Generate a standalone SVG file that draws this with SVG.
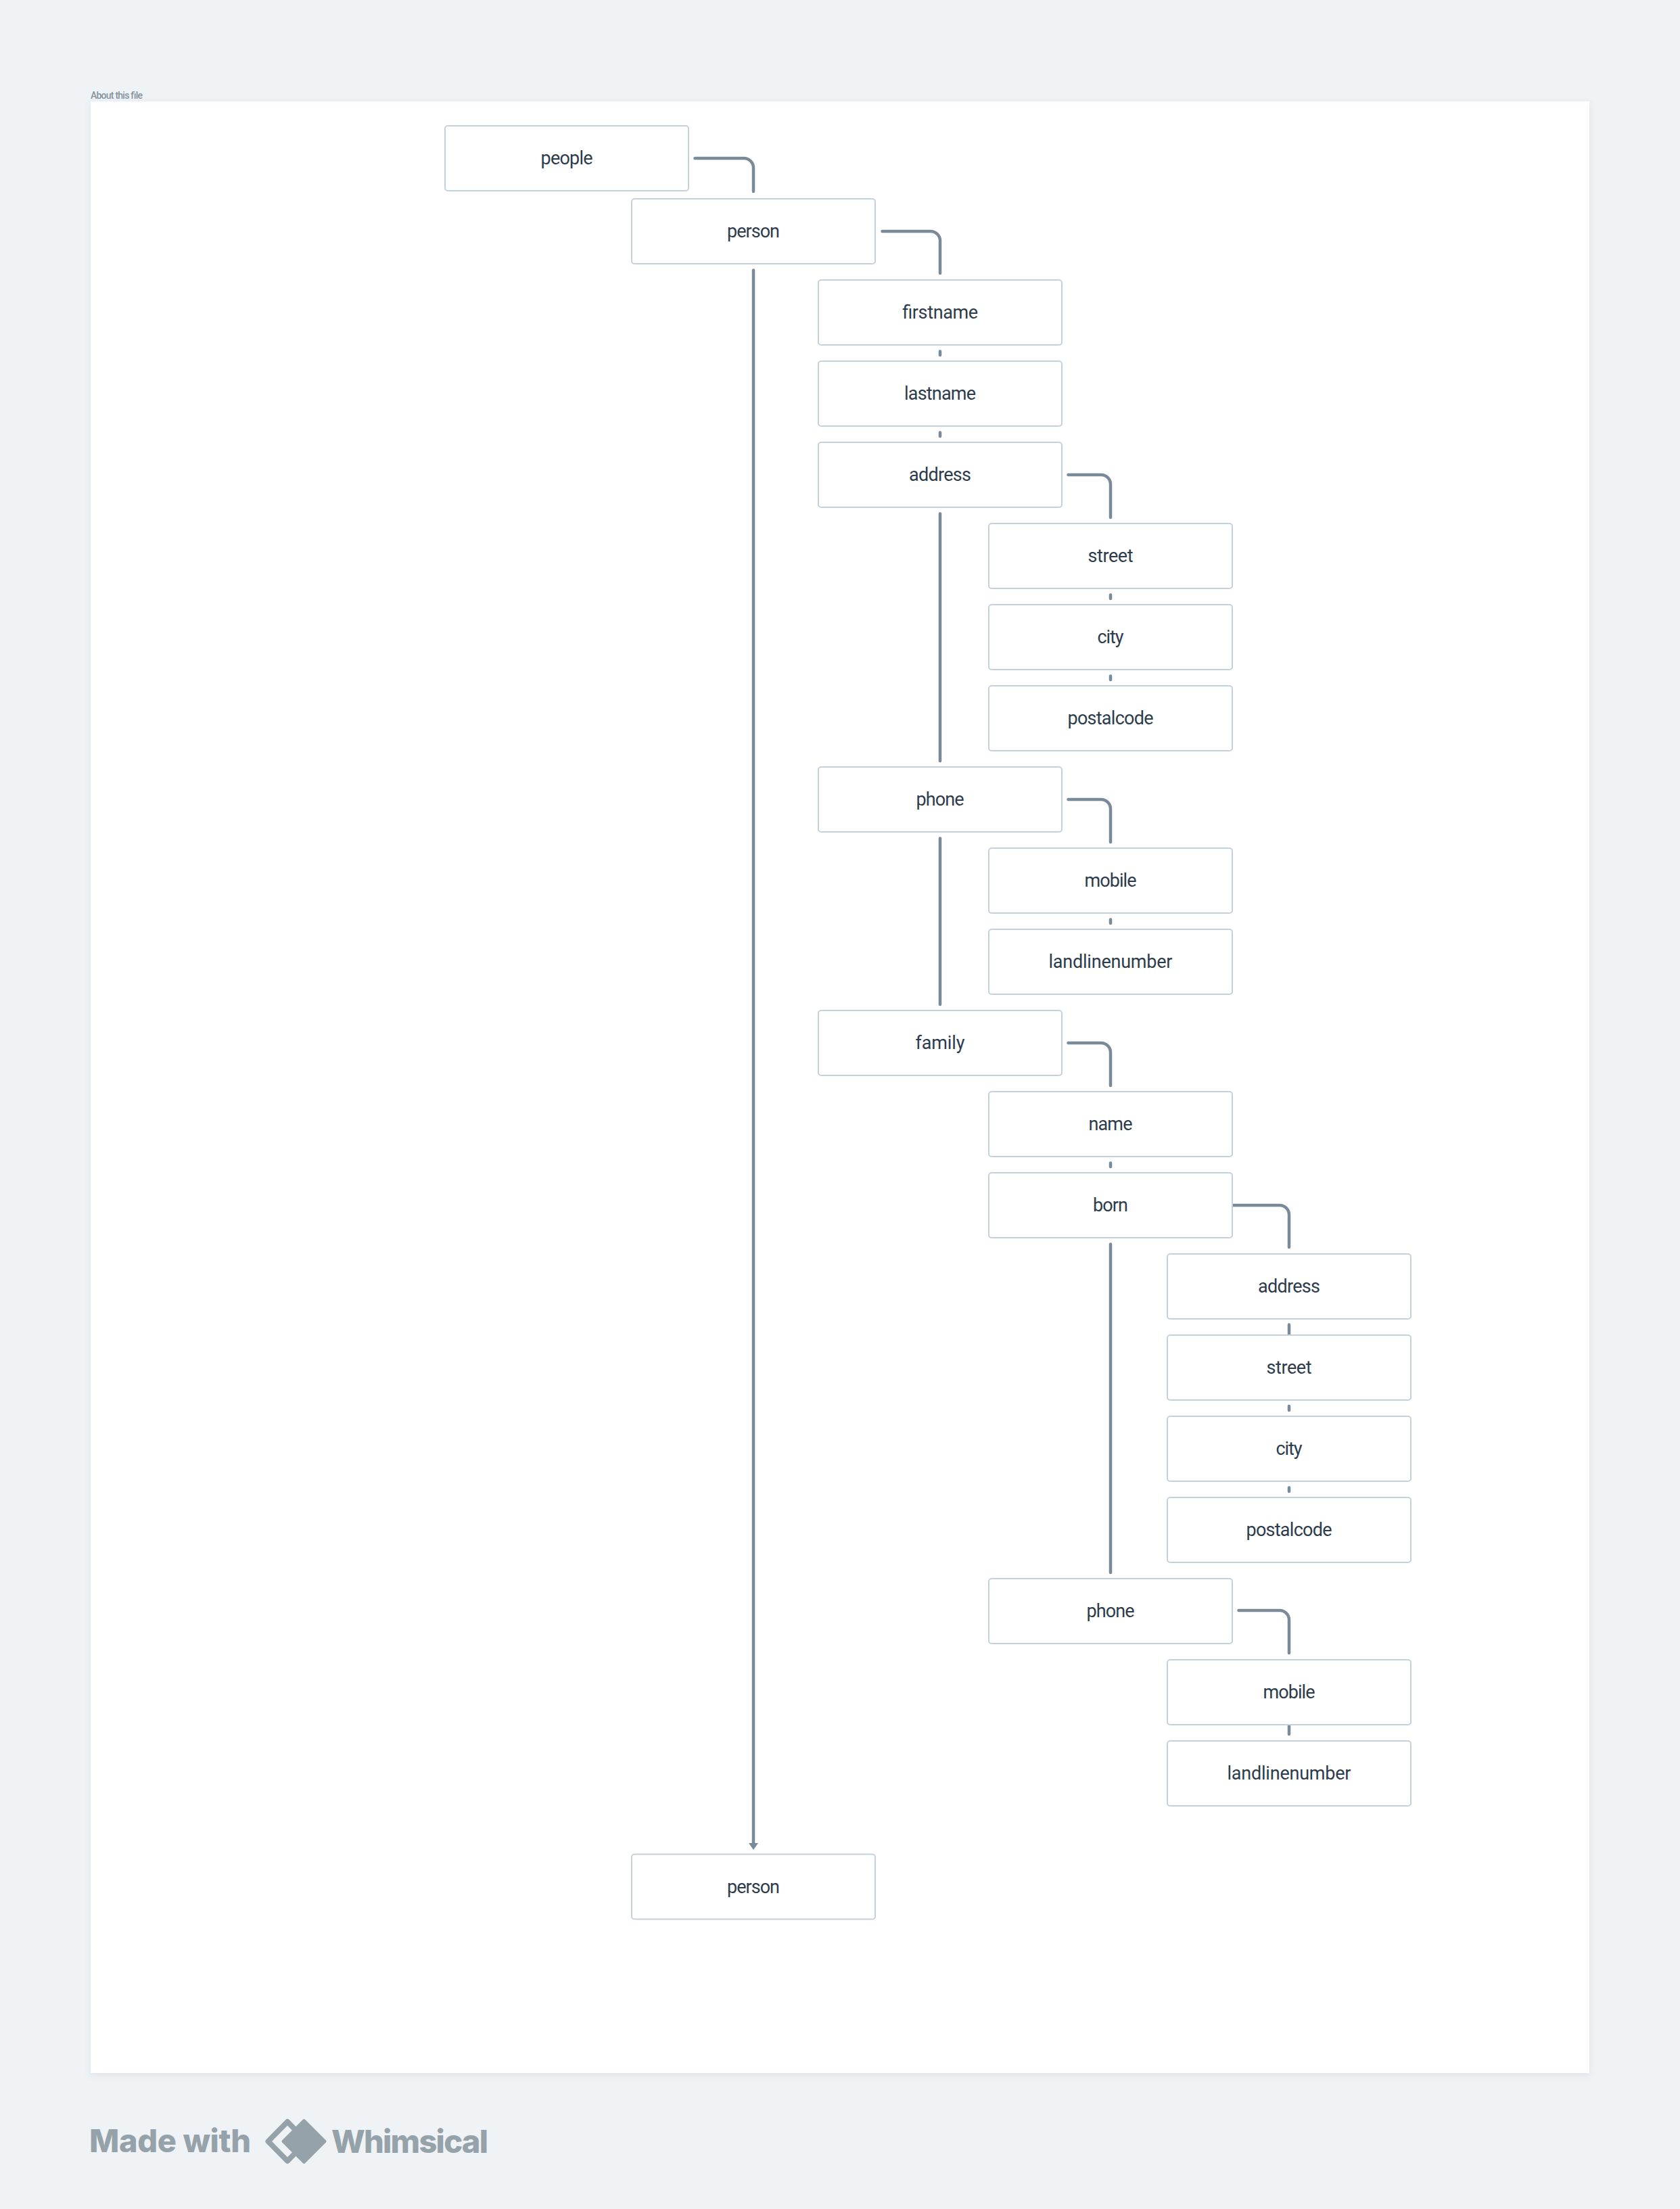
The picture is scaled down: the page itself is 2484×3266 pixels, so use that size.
<svg xmlns="http://www.w3.org/2000/svg" width="2484" height="3266" viewBox="0 0 2484 3266">
<style>
.n{fill:#fff;stroke:#c5d2dd;stroke-width:2}
.t{font-family:Roboto,"Liberation Sans",sans-serif;font-size:27px;fill:#2d3c4c;text-anchor:middle}
.c{fill:none;stroke:#7a8a99;stroke-width:4.500;stroke-linecap:round}
.m{font-family:Inter,"Liberation Sans",sans-serif;font-size:47px;font-weight:800;fill:#96a2aa}
.a{font-family:Roboto,"Liberation Sans",sans-serif;font-size:14px;font-weight:500;fill:#84929f}
</style>
<defs>
<filter id="s" x="-5%" y="-5%" width="110%" height="110%"><feDropShadow dx="0" dy="3" stdDeviation="5" flood-color="#5a6b7a" flood-opacity="0.12"/></filter>
</defs>
<rect width="2484" height="3266" fill="#eff3f6"/>
<rect x="134" y="150" width="2216" height="2915" fill="#fff" filter="url(#s)"/>
<text class="a" x="134" y="146" textLength="77">About this file</text>
<g id="connectors">
<path class="c" d="M1027.500 234H1100a14 14 0 0 1 14 14V283"/>
<path class="c" d="M1304.500 342H1376a14 14 0 0 1 14 14V404"/>
<path class="c" d="M1114 399.500V2726"/>
<path fill="#7a8a99" d="M1107 2725H1121L1114 2735Z"/>
<path class="c" d="M1390 519.500V525"/>
<path class="c" d="M1390 639.500V645"/>
<path class="c" d="M1579.500 702H1628a14 14 0 0 1 14 14V765"/>
<path class="c" d="M1390 759.500V1125"/>
<path class="c" d="M1642 879.500V885"/>
<path class="c" d="M1642 999.500V1005"/>
<path class="c" d="M1579.500 1182H1628a14 14 0 0 1 14 14V1245"/>
<path class="c" d="M1390 1239.500V1485"/>
<path class="c" d="M1642 1359.500V1365"/>
<path class="c" d="M1579.500 1542H1628a14 14 0 0 1 14 14V1605"/>
<path class="c" d="M1642 1719.500V1725"/>
<path class="c" d="M1822 1782H1892a14 14 0 0 1 14 14V1844"/>
<path class="c" d="M1642 1839.500V2325"/>
<path class="c" d="M1906 1958.500V1973"/>
<path class="c" d="M1906 2079V2085"/>
<path class="c" d="M1906 2199.500V2205"/>
<path class="c" d="M1831.500 2381H1892a14 14 0 0 1 14 14V2444"/>
<path class="c" d="M1906 2550V2564"/>
</g>
<g id="people"><rect class="n" x="658" y="186" width="360" height="96" rx="4"/><text class="t" x="838" y="243" textLength="77">people</text></g>
<g id="person"><rect class="n" x="934" y="294" width="360" height="96" rx="4"/><text class="t" x="1114" y="351" textLength="78">person</text></g>
<g id="firstname"><rect class="n" x="1210" y="414" width="360" height="96" rx="4"/><text class="t" x="1390" y="471" textLength="112">firstname</text></g>
<g id="lastname"><rect class="n" x="1210" y="534" width="360" height="96" rx="4"/><text class="t" x="1390" y="591" textLength="106">lastname</text></g>
<g id="address"><rect class="n" x="1210" y="654" width="360" height="96" rx="4"/><text class="t" x="1390" y="711" textLength="92">address</text></g>
<g id="street"><rect class="n" x="1462" y="774" width="360" height="96" rx="4"/><text class="t" x="1642" y="831" textLength="67">street</text></g>
<g id="city"><rect class="n" x="1462" y="894" width="360" height="96" rx="4"/><text class="t" x="1642" y="951" textLength="39">city</text></g>
<g id="postalcode"><rect class="n" x="1462" y="1014" width="360" height="96" rx="4"/><text class="t" x="1642" y="1071" textLength="127">postalcode</text></g>
<g id="phone"><rect class="n" x="1210" y="1134" width="360" height="96" rx="4"/><text class="t" x="1390" y="1191" textLength="71">phone</text></g>
<g id="mobile"><rect class="n" x="1462" y="1254" width="360" height="96" rx="4"/><text class="t" x="1642" y="1311" textLength="77">mobile</text></g>
<g id="landlinenumber"><rect class="n" x="1462" y="1374" width="360" height="96" rx="4"/><text class="t" x="1642" y="1431" textLength="183">landlinenumber</text></g>
<g id="family"><rect class="n" x="1210" y="1494" width="360" height="96" rx="4"/><text class="t" x="1390" y="1551" textLength="73">family</text></g>
<g id="name"><rect class="n" x="1462" y="1614" width="360" height="96" rx="4"/><text class="t" x="1642" y="1671" textLength="65">name</text></g>
<g id="born"><rect class="n" x="1462" y="1734" width="360" height="96" rx="4"/><text class="t" x="1642" y="1791" textLength="52">born</text></g>
<g id="address2"><rect class="n" x="1726" y="1854" width="360" height="96" rx="4"/><text class="t" x="1906" y="1911" textLength="92">address</text></g>
<g id="street2"><rect class="n" x="1726" y="1974" width="360" height="96" rx="4"/><text class="t" x="1906" y="2031" textLength="67">street</text></g>
<g id="city2"><rect class="n" x="1726" y="2094" width="360" height="96" rx="4"/><text class="t" x="1906" y="2151" textLength="39">city</text></g>
<g id="postalcode2"><rect class="n" x="1726" y="2214" width="360" height="96" rx="4"/><text class="t" x="1906" y="2271" textLength="127">postalcode</text></g>
<g id="phone2"><rect class="n" x="1462" y="2334" width="360" height="96" rx="4"/><text class="t" x="1642" y="2391" textLength="71">phone</text></g>
<g id="mobile2"><rect class="n" x="1726" y="2454" width="360" height="96" rx="4"/><text class="t" x="1906" y="2511" textLength="77">mobile</text></g>
<g id="landlinenumber2"><rect class="n" x="1726" y="2574" width="360" height="96" rx="4"/><text class="t" x="1906" y="2631" textLength="183">landlinenumber</text></g>
<g id="person2"><rect class="n" x="934" y="2741.500" width="360" height="96" rx="4"/><text class="t" x="1114" y="2798.500" textLength="78">person</text></g>
<g id="badge">
<text class="m" x="132" y="3182" textLength="239">Made with</text>
<path fill="none" stroke="#96a2aa" stroke-width="8" stroke-linejoin="round" d="M425 3137L396.500 3166L425 3195L453.500 3166Z"/>
<path fill="#96a2aa" stroke="#96a2aa" stroke-width="4" stroke-linejoin="round" d="M449.500 3135L480.500 3166L449.500 3197L418.500 3166Z"/>
<text class="m" x="490" y="3182.500" textLength="232">Whimsical</text>
</g>
</svg>
